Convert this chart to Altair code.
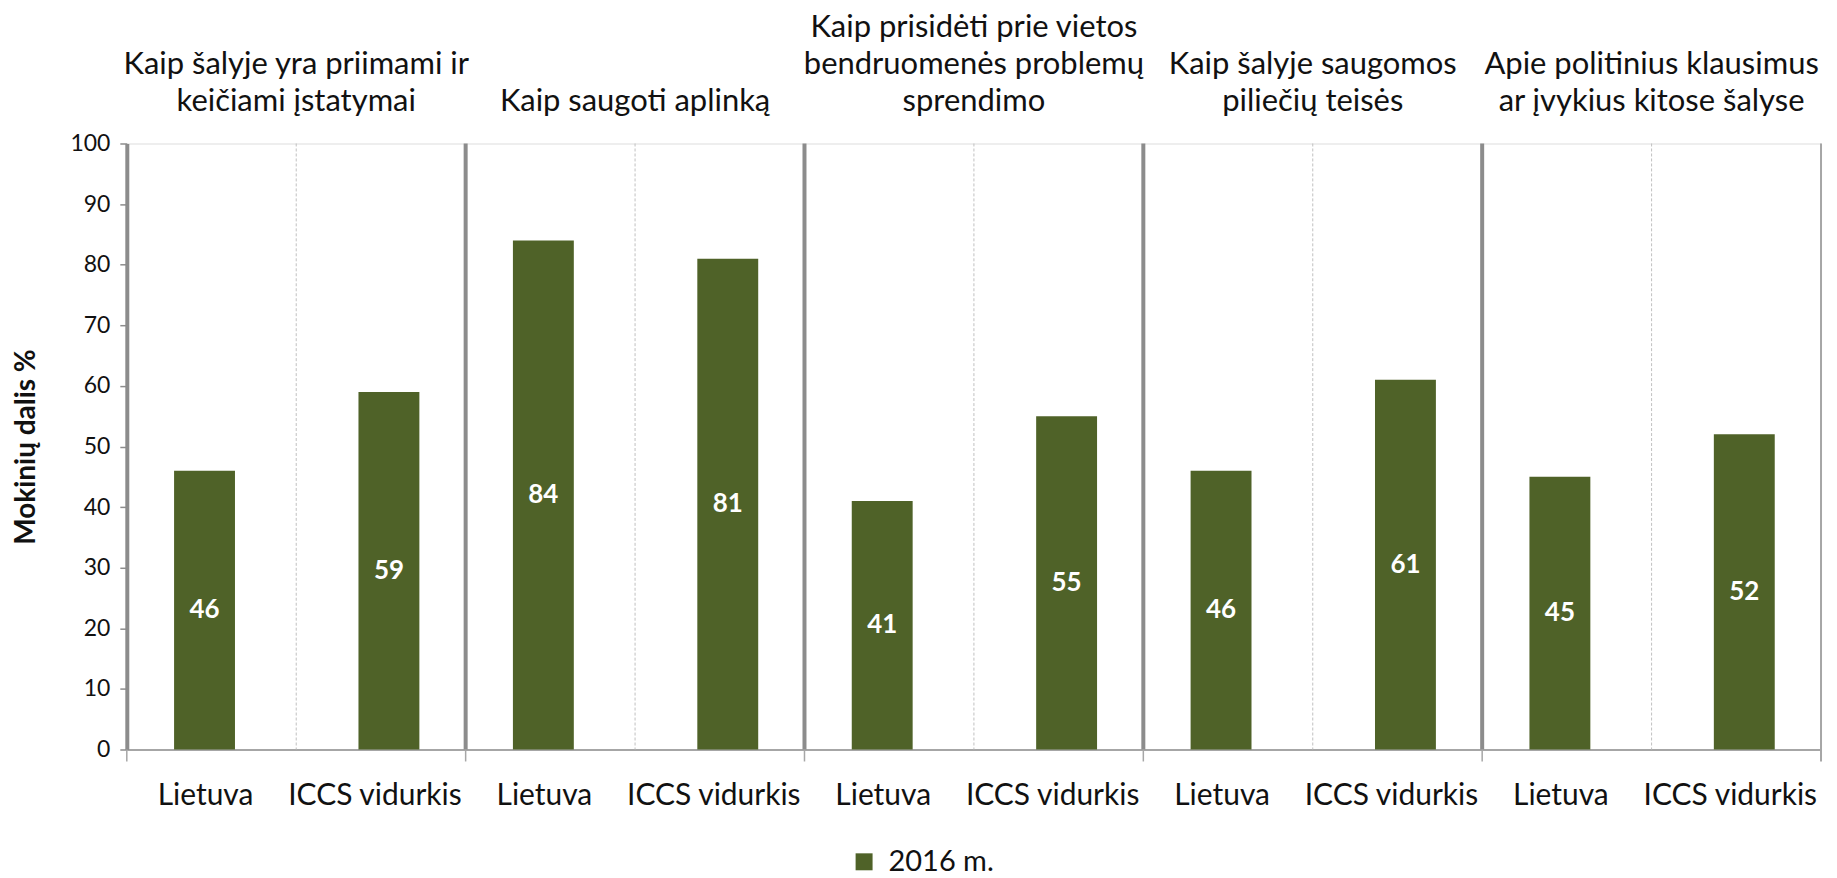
import altair as alt
import pandas as pd

# ---------------- data ----------------
group_titles = [
    ["Kaip šalyje yra priimami ir", "keičiami įstatymai"],
    ["Kaip saugoti aplinką"],
    ["Kaip prisidėti prie vietos", "bendruomenės problemų", "sprendimo"],
    ["Kaip šalyje saugomos", "piliečių teisės"],
    ["Apie politinius klausimus", "ar įvykius kitose šalyse"],
]
lietuva = [46, 84, 41, 46, 45]
iccs = [59, 81, 55, 61, 52]
cat_labels = ["Lietuva", "ICCS vidurkis"]
series_name = "2016 m."
y_ticks = [0, 10, 20, 30, 40, 50, 60, 70, 80, 90, 100]

rows = []
for i in range(len(group_titles)):
    for who, vals in zip(cat_labels, [lietuva, iccs]):
        rows.append({"key": f"{i+1}|{who}", "who": who, "value": vals[i],
                     "mid": vals[i] / 2, "series": series_name})
df = pd.DataFrame(rows)
order = list(df["key"])

lie_keys = [k for k in order if k.endswith("Lietuva")]
iccs_keys = [k for k in order if k.endswith("ICCS vidurkis")]

title_rows = []
for key, lines in zip(iccs_keys, group_titles):
    for j, line in enumerate(reversed(lines)):
        title_rows.append({"key": key, "line": line, "fromBottom": j})
titles_df = pd.DataFrame(title_rows)
thick_df = pd.DataFrame({"key": lie_keys[1:]})
dash_df = pd.DataFrame({"key": iccs_keys})
tick_df = pd.DataFrame({"key": lie_keys})
end_df = pd.DataFrame({"key": [order[-1]]})

# ---------------- style ----------------
W, H = 1697, 607
FONT = "Lato"
GREEN = "#4F6228"
GRAY = "#8c8c8c"
LIGHT = "#a6a6a6"
TXT = "#111111"
LINE_H = 37

xscale = alt.Scale(domain=order, paddingInner=0, paddingOuter=0)
xaxis = alt.Axis(
    title=None, labelExpr="split(datum.value, '|')[1]", labelOffset=-6,
    labelPadding=31, ticks=False, domainColor=LIGHT, domainWidth=2,
    labelFont=FONT, labelFontSize=30, labelAngle=0, labelColor=TXT,
    labelLimit=400, labelOverlap=False,
)
yscale = alt.Scale(domain=[0, 100], nice=False)
yaxis = alt.Axis(
    values=y_ticks, title="Mokinių dalis %", titleFont=FONT, titleFontSize=28,
    titleFontWeight="bold", titleColor=TXT, titleX=-100, titleY=H / 2,
    titleAngle=-90, titleBaseline="middle", titleAlign="center",
    labelFont=FONT, labelFontSize=23, labelColor=TXT, labelPadding=10,
    tickSize=7, tickColor=GRAY, tickWidth=1.5, domainColor=GRAY,
    domainWidth=4, grid=False,
)


def X(bp=0.5):
    return alt.X("key:N", sort=order, scale=xscale, axis=xaxis, bandPosition=bp)


color = alt.Color(
    "series:N", scale=alt.Scale(range=[GREEN]),
    legend=alt.Legend(
        title=None, orient="none", legendX=724, legendY=705, padding=0,
        symbolType="square", symbolSize=289, symbolStrokeWidth=0,
        labelFont=FONT, labelFontSize=29, labelColor=TXT, labelOffset=10,
    ),
)

base = alt.Chart(df)
layers = []
for who, off in [("Lietuva", -7), ("ICCS vidurkis", 8)]:
    sub = base.transform_filter(alt.datum.who == who)
    layers.append(sub.mark_bar(width=61, xOffset=off).encode(
        x=X(), y=alt.Y("value:Q", scale=yscale, axis=yaxis), color=color))
    layers.append(sub.mark_text(
        color="white", font=FONT, fontWeight="bold", fontSize=26,
        baseline="middle", xOffset=off).encode(
        x=X(), y=alt.Y("mid:Q", scale=yscale, axis=yaxis), text="value:Q"))

thick = alt.Chart(thick_df).mark_rule(color=GRAY, strokeWidth=4).encode(
    x=X(0), y=alt.value(0), y2=alt.value(H))
dashed = alt.Chart(dash_df).mark_rule(color="#c0c0c0", strokeWidth=1, strokeDash=[3, 2]).encode(
    x=X(0), y=alt.value(0), y2=alt.value(H))
ticks = alt.Chart(tick_df).mark_rule(color=LIGHT, strokeWidth=1.5).encode(
    x=X(0), y=alt.value(H), y2=alt.value(H + 12))
end_rule = alt.Chart(end_df).mark_rule(color=LIGHT, strokeWidth=2).encode(
    x=X(1), y=alt.value(0), y2=alt.value(H + 12))

title_layers = []
for j in range(3):
    title_layers.append(
        alt.Chart(titles_df).transform_filter(alt.datum.fromBottom == j).mark_text(
            font=FONT, fontSize=31, color=TXT, align="center", baseline="alphabetic"
        ).encode(x=X(0), y=alt.value(-33 - j * LINE_H), text="line:N")
    )

chart = alt.layer(
    dashed, thick, ticks, end_rule, *layers, *title_layers
).properties(
    width=W, height=H,
    autosize=alt.AutoSizeParams(type="none"),
    padding={"left": 119, "top": 135, "right": 8, "bottom": 127},
).configure_view(stroke=None).configure(background="white")

chart.save("out.html", embed_options={"renderer": "svg", "actions": False})
